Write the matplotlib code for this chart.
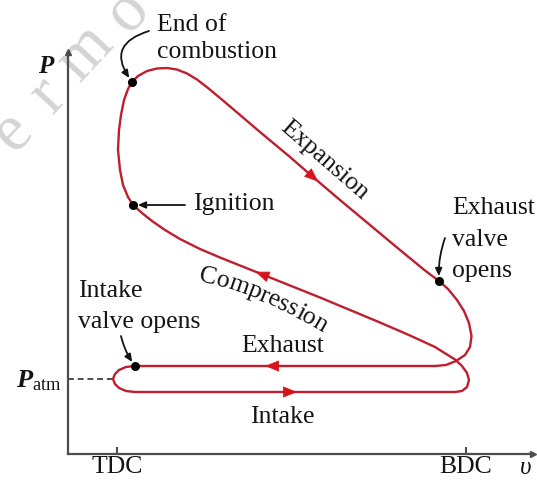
import numpy as np
import matplotlib
matplotlib.use("Agg")
import matplotlib.pyplot as plt
from matplotlib.font_manager import FontProperties, findfont, get_font

plt.rcParams["font.family"] = ["Liberation Serif", "DejaVu Serif"]
plt.rcParams["mathtext.fontset"] = "custom"
plt.rcParams["mathtext.rm"] = "Liberation Serif"
plt.rcParams["mathtext.it"] = "Liberation Serif:italic:bold"

# ---------------- Otto-cycle indicator diagram (schematic units) ----------------
v_tdc = 9.8      # top dead centre
v_bdc = 79.6     # bottom dead centre
p_atm = 15.0     # atmospheric pressure line

intake_v = [13.4, 11.6, 10.2, 9.4, 9.0, 9.4, 10.2, 11.6, 13.4, 77.4]
intake_P = [17.6, 17.4, 16.8, 16.0, 15.0, 14.0, 13.2, 12.6, 12.4, 12.4]

compression_v = [77.4, 78.8, 79.8, 80.2, 79.8, 78.8, 77.4, 73.4, 68.4, 62.4, 56.4,
                 50.4, 44.4, 38.4, 34.4, 30.4, 26.4, 22.4, 19.4, 16.8, 14.8, 13.0]
compression_P = [12.4, 12.6, 13.4, 14.8, 16.2, 17.6, 18.9, 21.4, 23.7, 26.3, 28.8,
                 31.3, 33.7, 36.1, 37.7, 39.3, 41.0, 43.0, 44.8, 46.6, 48.2, 49.8]

combustion_v = [13.0, 12.0, 11.0, 10.4, 10.0, 10.2, 10.6, 11.2, 12.0, 12.8]
combustion_P = [49.8, 51.4, 53.8, 56.8, 60.8, 64.8, 67.8, 70.8, 73.0, 74.4]

expansion_v = [12.8, 14.0, 15.8, 17.8, 19.8, 21.8, 23.8, 25.8, 28.0, 30.4, 33.0,
               38.4, 44.4, 49.0, 54.4, 60.4, 66.4, 71.4, 74.2]
expansion_P = [74.4, 75.6, 76.6, 77.1, 77.2, 76.9, 76.1, 74.9, 73.2, 71.2, 69.0,
               64.4, 59.4, 55.4, 50.8, 45.8, 40.8, 36.7, 34.6]

blowdown_v = [74.2, 76.0, 77.8, 79.2, 80.2, 80.7, 80.4, 79.4, 77.6, 75.6, 73.4]
blowdown_P = [34.6, 33.0, 30.8, 28.6, 26.2, 23.6, 21.4, 19.8, 18.6, 17.8, 17.6]

exhaust_v = [73.4, 13.4]
exhaust_P = [17.6, 17.6]

# direction-of-flow arrows: (stroke, volume where the arrow sits)
flow_arrows = [("expansion", 49.0), ("compression", 38.8),
               ("exhaust", 40.8), ("intake", 44.4)]

x_tick_labels = ["TDC", "BDC"]

# ---------------- styling ----------------
cycle_red = "#bf1e2e"
arrow_red = "#d6141c"
ink = "#141414"
axis_grey = "#4d4d4d"
fs = 18.5

segments = {
    "intake": (intake_v, intake_P),
    "compression": (compression_v, compression_P),
    "combustion": (combustion_v, combustion_P),
    "expansion": (expansion_v, expansion_P),
    "blowdown": (blowdown_v, blowdown_P),
    "exhaust": (exhaust_v, exhaust_P),
}

fig = plt.figure(figsize=(5.37, 4.80), dpi=100)
fig.patch.set_facecolor("white")
ax = fig.add_axes([68 / 537, 26 / 480, 465 / 537, 402 / 480])
ax.set_xlim(0, 93)
ax.set_ylim(0, 80.4)
ax.patch.set_alpha(0)

# faint site watermark behind everything (pixel centres of the visible letters)
for ch, (x, y) in zip("ermo", [(12, 132), (48, 96), (85, 53), (127, 11)]):
    fig.text(x / 537, 1 - y / 480, ch, rotation=47, ha="center", va="center",
             fontsize=48, color="#d4d4d4", zorder=-5)

# axes with arrow heads
for s in ("top", "right"):
    ax.spines[s].set_visible(False)
for s in ("left", "bottom"):
    ax.spines[s].set_color(axis_grey)
    ax.spines[s].set_linewidth(1.6)
ax.plot(1, 0, ">", transform=ax.get_yaxis_transform(), clip_on=False,
        color=axis_grey, ms=5)
ax.plot(0, 1, "^", transform=ax.get_xaxis_transform(), clip_on=False,
        color=axis_grey, ms=5)
ax.set_xticks([v_tdc, v_bdc], x_tick_labels)
ax.set_yticks([])
ax.tick_params(axis="x", direction="in", length=5, width=1.5, color=axis_grey,
               labelcolor=ink, labelsize=fs, pad=1.5)

# atmospheric-pressure reference
ax.plot([0, min(intake_v)], [p_atm, p_atm], ls=(0, (3, 2)), color=axis_grey, lw=1.4)

# the cycle
for name, (vs, ps) in segments.items():
    ax.plot(vs, ps, color=cycle_red, lw=1.7, solid_joinstyle="round",
            solid_capstyle="round", zorder=3)


def point_on(vs, ps, v0):
    for i in range(len(vs) - 1):
        a, b = vs[i], vs[i + 1]
        if a != b and min(a, b) <= v0 <= max(a, b):
            t = (v0 - a) / (b - a)
            c = np.array([v0, ps[i] + t * (ps[i + 1] - ps[i])])
            d = np.array([b - a, ps[i + 1] - ps[i]])
            return c, d / np.hypot(*d)
    raise ValueError(v0)


for name, v0 in flow_arrows:
    c, u = point_on(*segments[name], v0)
    ax.annotate("", xy=c + 1.4 * u, xytext=c - 1.4 * u,
                arrowprops=dict(arrowstyle="-|>,head_length=0.9,head_width=0.36",
                                color=arrow_red, lw=0.6, shrinkA=0, shrinkB=0,
                                mutation_scale=10), zorder=4)

# state points
state_v = [compression_v[-1], combustion_v[-1], expansion_v[-1], exhaust_v[-1]]
state_P = [compression_P[-1], combustion_P[-1], expansion_P[-1], exhaust_P[-1]]
ax.plot(state_v, state_P, "o", color="black", ms=5.5, zorder=5)

leader = dict(arrowstyle="-|>,head_length=0.45,head_width=0.2", color=ink, lw=1.3,
              shrinkA=0, shrinkB=3.5, mutation_scale=10)

# End of combustion
ax.text(17.8, 84.6, "End of", fontsize=fs, color=ink, ha="left", va="baseline")
ax.text(17.8, 79.2, "combustion", fontsize=fs, color=ink, ha="left", va="baseline")
ax.annotate("", xy=(combustion_v[-1], combustion_P[-1]), xytext=(16.2, 84.6),
            annotation_clip=False,
            arrowprops=dict(leader, connectionstyle="arc3,rad=0.7"))

# Ignition
ax.text(25.0, 48.8, "Ignition", fontsize=fs, color=ink, ha="left", va="baseline")
ax.annotate("", xy=(compression_v[-1], compression_P[-1]),
            xytext=(23.4, compression_P[-1]), arrowprops=leader)

# Exhaust valve opens
for txt, pb in (("Exhaust", 48.0), ("valve", 41.6), ("opens", 35.4)):
    ax.text(76.8, pb, txt, fontsize=fs, color=ink, ha="left", va="baseline")
ax.annotate("", xy=(expansion_v[-1], expansion_P[-1]), xytext=(75.4, 43.2),
            arrowprops=dict(leader, connectionstyle="arc3,rad=0.1"))

# Intake valve opens
ax.text(2.0, 31.4, "Intake", fontsize=fs, color=ink, ha="left", va="baseline")
ax.text(2.0, 25.2, "valve opens", fontsize=fs, color=ink, ha="left", va="baseline")
ax.annotate("", xy=(exhaust_v[-1], exhaust_P[-1]), xytext=(10.6, 23.6),
            arrowprops=dict(leader, connectionstyle="arc3,rad=0.1"))

# stroke names
ax.text(34.6, 20.4, "Exhaust", fontsize=fs, color=ink, ha="left", va="baseline")
ax.text(36.4, 6.2, "Intake", fontsize=fs, color=ink, ha="left", va="baseline")
ax.text(51.2, 58.8, "Expansion", fontsize=fs, color=ink, ha="center", va="center",
        rotation=-41, rotation_mode="anchor")

# "Compression" set along a gently bending baseline
word = "Compression"
font = get_font(findfont(FontProperties(family="Liberation Serif")))
font.set_size(fs, 72)
adv_pt = np.array([font.load_char(ord(ch)).linearHoriAdvance / 65536 for ch in word])
adv = adv_pt * (100 / 72) / 5
b0, b1, b2 = np.array([26.2, 34.6]), np.array([37.6, 32.2]), np.array([50.8, 24.4])
tt = np.linspace(0, 1, 400)
path = (((1 - tt) ** 2)[:, None] * b0 + (2 * (1 - tt) * tt)[:, None] * b1
        + (tt ** 2)[:, None] * b2)
arc = np.concatenate([[0], np.cumsum(np.hypot(*np.diff(path, axis=0).T))])
start = (arc[-1] - adv.sum()) / 2
for ch, sc in zip(word, start + np.cumsum(adv) - adv / 2):
    x = np.interp(sc, arc, path[:, 0])
    y = np.interp(sc, arc, path[:, 1])
    tc = np.interp(sc, arc, tt)
    d = 2 * (1 - tc) * (b1 - b0) + 2 * tc * (b2 - b1)
    ax.text(x, y, ch, fontsize=fs, color=ink, ha="center", va="baseline",
            rotation=np.degrees(np.arctan2(d[1], d[0])), rotation_mode="anchor")

# axis labels
ax.text(-4.5, 76.2, "P", fontsize=18, style="italic", weight="bold", color=ink,
        ha="center", va="baseline")
ax.text(-1.3, 13.4, r"$P_{\mathrm{atm}}$", fontsize=19, color=ink,
        ha="right", va="baseline")
ax.text(91.6, -3.9, "υ", fontsize=18, style="italic", color=ink,
        ha="center", va="baseline")

fig.savefig("out.png", dpi=100, facecolor="white")
